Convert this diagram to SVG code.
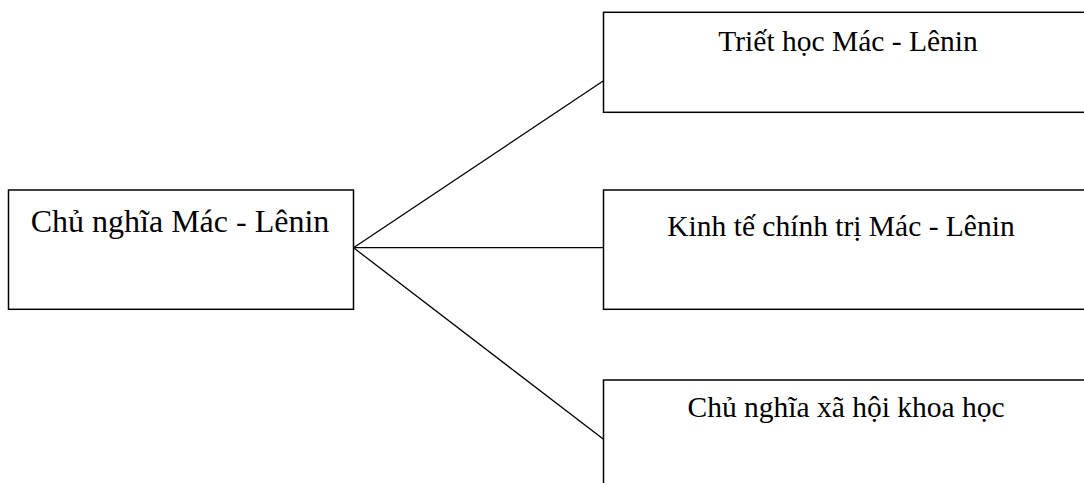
<svg xmlns="http://www.w3.org/2000/svg" width="1084" height="483" viewBox="0 0 1084 483">
<style>
.box{fill:#fff;stroke:#000;stroke-width:1.5}
.conn{stroke:#000;stroke-width:1.3;fill:none}
.t{font-family:"Liberation Serif","Times New Roman",serif;fill:#000;text-anchor:middle}
.big{font-size:32px}
.sm{font-size:29.5px}
</style>
<rect width="1084" height="483" fill="#fff"/>
<g id="connectors">
<line class="conn" x1="353.5" y1="247.7" x2="603.5" y2="80.7"/>
<line class="conn" x1="353.5" y1="247.7" x2="603.5" y2="247.7"/>
<line class="conn" x1="353.5" y1="247.7" x2="603.5" y2="439.3"/>
</g>
<g id="node-main">
<rect class="box" x="8.5" y="190" width="345" height="119.3"/>
<text class="t big" x="180" y="231.7">Chủ nghĩa Mác - Lênin</text>
</g>
<g id="node-triet">
<rect class="box" x="603.5" y="12.3" width="490" height="100"/>
<text class="t sm" x="848" y="50.5">Triết học Mác - Lênin</text>
</g>
<g id="node-kinhte">
<rect class="box" x="603.5" y="190" width="490" height="119.3"/>
<text class="t sm" x="841" y="235.5">Kinh tế chính trị Mác - Lênin</text>
</g>
<g id="node-cnxh">
<rect class="box" x="603.5" y="380" width="490" height="120"/>
<text class="t sm" x="846" y="416.7">Chủ nghĩa xã hội khoa học</text>
</g>
</svg>
